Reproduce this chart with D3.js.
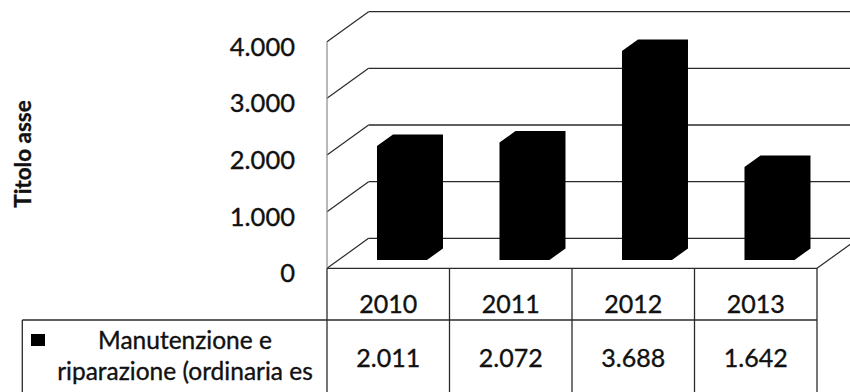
<!DOCTYPE html>
<html>
<head>
<meta charset="utf-8">
<script src="https://cdn.jsdelivr.net/npm/d3@7"></script>
<style>
  html, body { margin: 0; padding: 0; background: #fff; }
  svg { display: block; font-family: Lato, "Open Sans", sans-serif; }
  .lbl { fill: #111; stroke: #111; stroke-width: 0.35px; }
</style>
</head>
<body>
<svg id="chart" width="850" height="392"></svg>
<script>
// ---- data ----
const years = ["2010", "2011", "2012", "2013"];
const values = [2011, 2072, 3688, 1642];
const seriesLabel = ["Manutenzione e", "riparazione (ordinaria es"];
const axisTitle = "Titolo asse";
const yTicks = [0, 1000, 2000, 3000, 4000];

// Italian number format: 2.011
const itLocale = d3.formatLocale({ decimal: ",", thousands: ".", grouping: [3], currency: ["€", ""] });
const fmt = itLocale.format(",d");

const svg = d3.select("#chart");

// front plane scales
const x = d3.scaleBand().domain(years).range([327, 817]).paddingInner(0).paddingOuter(0);
const y = d3.scaleLinear().domain([0, 4000]).range([268.3, 41.7]);

// oblique depth offset of the full chart depth
const DX = 41.6, DY = -30;
const P = (px, v, z) => [px + z * DX, y(v) + z * DY];

const xLeft = x.range()[0], xRight = x.range()[1];
const lineCol = "#2a2a2a";

// ---- walls and floor ----
const walls = svg.append("g").attr("fill", "none");

// back-wall gridlines
walls.selectAll("line.back").data(yTicks).join("line")
  .attr("class", "back")
  .attr("x1", d => P(xLeft, d, 1)[0]).attr("y1", d => P(xLeft, d, 1)[1])
  .attr("x2", d => P(xRight, d, 1)[0]).attr("y2", d => P(xRight, d, 1)[1])
  .attr("stroke", lineCol).attr("stroke-width", 1.3);

// side-wall gridlines (diagonals)
walls.selectAll("line.side").data(yTicks).join("line")
  .attr("class", "side")
  .attr("x1", d => P(xLeft, d, 0)[0]).attr("y1", d => P(xLeft, d, 0)[1])
  .attr("x2", d => P(xLeft, d, 1)[0]).attr("y2", d => P(xLeft, d, 1)[1])
  .attr("stroke", lineCol).attr("stroke-width", 1.2);

// front edge of the side wall
walls.append("line")
  .attr("x1", P(xLeft, 0, 0)[0]).attr("y1", P(xLeft, 0, 0)[1])
  .attr("x2", P(xLeft, 4000, 0)[0]).attr("y2", P(xLeft, 4000, 0)[1])
  .attr("stroke", "#8a8a8a").attr("stroke-width", 1.2);

// right edge of the floor
walls.append("line")
  .attr("x1", P(xRight, 0, 0)[0]).attr("y1", P(xRight, 0, 0)[1])
  .attr("x2", P(xRight, 0, 1)[0]).attr("y2", P(xRight, 0, 1)[1])
  .attr("stroke", lineCol).attr("stroke-width", 1.2);

// ---- 3D bars ----
const f0 = 0.314, f1 = 0.722, z0 = 0.277, z1 = 0.662;
const bw = x.bandwidth();
svg.append("g").selectAll("polygon").data(years.map((yr, i) => ({ yr, v: values[i] }))).join("polygon")
  .attr("points", d => {
    const a = x(d.yr) + f0 * bw, b = x(d.yr) + f1 * bw;
    return [P(a, 0, z0), P(a, d.v, z0), P(a, d.v, z1), P(b, d.v, z1), P(b, 0, z1), P(b, 0, z0)]
      .map(p => p.join(",")).join(" ");
  })
  .attr("fill", "#000");

// ---- value axis ----
const yAxis = svg.append("g")
  .attr("transform", `translate(${xLeft},0)`)
  .call(d3.axisLeft(y).tickValues(yTicks).tickFormat(fmt).tickSize(0).tickPadding(32));
yAxis.select(".domain").remove();
yAxis.selectAll("text")
  .attr("class", "lbl")
  .attr("dy", "0.53em")
  .attr("font-size", 25.5)
  .attr("font-family", "Lato, 'Open Sans', sans-serif");

// axis title
svg.append("text")
  .attr("class", "lbl")
  .attr("transform", "translate(31,154) rotate(-90)")
  .attr("text-anchor", "middle")
  .attr("font-weight", "bold")
  .attr("font-size", 22.5)
  .text(axisTitle);

// ---- data table ----
const table = svg.append("g");
const headTop = y(0), rowLine = 320, tableLeft = 22.3, tableBottom = 400;
const tStroke = "#2a2a2a";

// front floor edge / header top
table.append("line")
  .attr("x1", xLeft).attr("y1", headTop).attr("x2", xRight).attr("y2", headTop)
  .attr("stroke", tStroke).attr("stroke-width", 1.3);
// row separator
table.append("line")
  .attr("x1", tableLeft).attr("y1", rowLine).attr("x2", xRight).attr("y2", rowLine)
  .attr("stroke", tStroke).attr("stroke-width", 1.3);
// left border of the series row
table.append("line")
  .attr("x1", tableLeft).attr("y1", rowLine).attr("x2", tableLeft).attr("y2", tableBottom)
  .attr("stroke", tStroke).attr("stroke-width", 1.3);
// column dividers
const dividers = years.map(d => x(d)).concat([xRight]);
table.selectAll("line.col").data(dividers).join("line")
  .attr("class", "col")
  .attr("x1", d => d).attr("x2", d => d)
  .attr("y1", headTop).attr("y2", tableBottom)
  .attr("stroke", tStroke).attr("stroke-width", 1.3);

// header labels
table.selectAll("text.year").data(years).join("text")
  .attr("class", "year lbl")
  .attr("x", d => x(d) + bw / 2)
  .attr("y", 313.3)
  .attr("text-anchor", "middle")
  .attr("font-size", 25)
  .text(d => d);

// values row
table.selectAll("text.val").data(years.map((yr, i) => ({ yr, v: values[i] }))).join("text")
  .attr("class", "val lbl")
  .attr("x", d => x(d.yr) + bw / 2)
  .attr("y", 367)
  .attr("text-anchor", "middle")
  .attr("font-size", 25)
  .text(d => fmt(d.v));

// legend key and series name
table.append("rect")
  .attr("x", 31).attr("y", 334).attr("width", 14).attr("height", 12)
  .attr("fill", "#000");
table.selectAll("text.series").data(seriesLabel).join("text")
  .attr("class", "series lbl")
  .attr("x", 185)
  .attr("y", (d, i) => 349.3 + i * 31)
  .attr("text-anchor", "middle")
  .attr("font-size", 24.5)
  .text(d => d);
</script>
</body>
</html>
